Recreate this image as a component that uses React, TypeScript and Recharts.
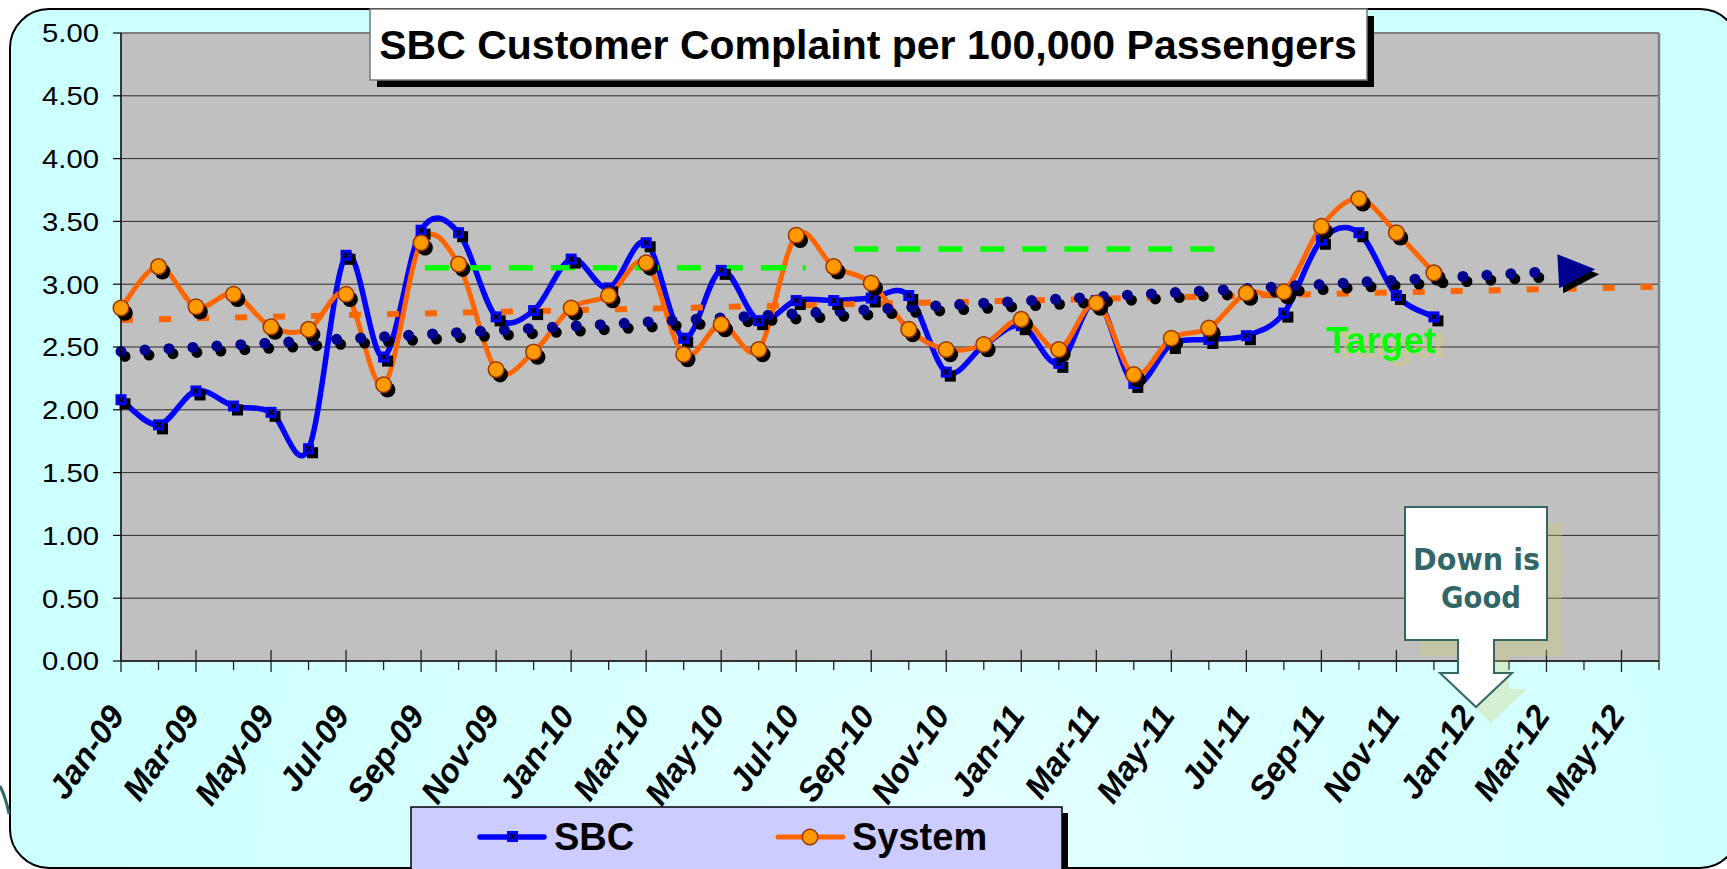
import React from 'react';
import { LineChart, Line, XAxis, YAxis, CartesianGrid, ReferenceLine } from 'recharts';

// month categories on the x axis (data runs Jan-09 .. Dec-11, axis runs to Jun-12)
const months = [
  'Jan-09', 'Feb-09', 'Mar-09', 'Apr-09', 'May-09', 'Jun-09', 'Jul-09', 'Aug-09', 'Sep-09', 'Oct-09', 'Nov-09', 'Dec-09',
  'Jan-10', 'Feb-10', 'Mar-10', 'Apr-10', 'May-10', 'Jun-10', 'Jul-10', 'Aug-10', 'Sep-10', 'Oct-10', 'Nov-10', 'Dec-10',
  'Jan-11', 'Feb-11', 'Mar-11', 'Apr-11', 'May-11', 'Jun-11', 'Jul-11', 'Aug-11', 'Sep-11', 'Oct-11', 'Nov-11', 'Dec-11',
  'Jan-12', 'Feb-12', 'Mar-12', 'Apr-12', 'May-12', 'Jun-12',
];

const seriesNames = ['SBC', 'System'];

const sbcValues = [
  2.08, 1.88, 2.15, 2.03, 1.98, 1.69, 3.23, 2.42, 3.43, 3.41, 2.74, 2.79,
  3.20, 2.97, 3.33, 2.57, 3.11, 2.71, 2.87, 2.87, 2.89, 2.91, 2.30, 2.51,
  2.67, 2.37, 2.87, 2.21, 2.52, 2.56, 2.59, 2.77, 3.35, 3.41, 2.91, 2.74,
];

const systemValues = [
  2.81, 3.14, 2.82, 2.92, 2.66, 2.64, 2.92, 2.20, 3.33, 3.16, 2.32, 2.46,
  2.81, 2.91, 3.17, 2.44, 2.68, 2.48, 3.39, 3.14, 3.01, 2.64, 2.48, 2.52,
  2.72, 2.48, 2.85, 2.28, 2.57, 2.65, 2.93, 2.94, 3.46, 3.68, 3.41, 3.09,
];

const yTicks = [0, 0.5, 1, 1.5, 2, 2.5, 3, 3.5, 4, 4.5, 5];

// trend lines (month index, value)
const sbcTrend = [{ idx: 0, value: 2.465 }, { idx: 39.3, value: 3.12 }];
const systemTrend = [{ idx: 0, value: 2.715 }, { idx: 41, value: 2.98 }];

// green target segments
const targets = [
  { from: 8.1, to: 18.25, value: 3.13 },
  { from: 19.55, to: 29.15, value: 3.28 },
];

const data = sbcValues.map((v, i) => ({ idx: i, month: months[i], sbc: v, system: systemValues[i] }));
const xTicks = months.map((_, i) => i);

const W = 1727;
const H = 869;
const AXIS_Y = 661;
const FONT = '"Liberation Sans", Arial, sans-serif';

// Excel style smoothing (bezier through points, control points at 1/6 of neighbour span)
const excelSmooth = (context: any) => {
  let pts: number[][] = [];
  return {
    areaStart() {},
    areaEnd() {},
    lineStart() {
      pts = [];
    },
    point(x: number, y: number) {
      pts.push([+x, +y]);
    },
    lineEnd() {
      const n = pts.length;
      if (!n) return;
      context.moveTo(pts[0][0], pts[0][1]);
      for (let i = 0; i < n - 1; i++) {
        const p0 = pts[Math.max(i - 1, 0)];
        const p1 = pts[i];
        const p2 = pts[i + 1];
        const p3 = pts[Math.min(i + 2, n - 1)];
        context.bezierCurveTo(
          p1[0] + (p2[0] - p0[0]) / 6, p1[1] + (p2[1] - p0[1]) / 6,
          p2[0] - (p3[0] - p1[0]) / 6, p2[1] - (p3[1] - p1[1]) / 6,
          p2[0], p2[1],
        );
      }
    },
  };
};

const sbcMarker = (cx: number, cy: number, key: string) => (
  <g key={key}>
    <rect x={cx - 5.5 + 4} y={cy - 5.5 + 4} width={11} height={11} fill="#000" />
    <rect x={cx - 5.5} y={cy - 5.5} width={11} height={11} fill="#0000ff" />
    <path
      d={`M${cx - 2.5},${cy - 2.5}L${cx + 2.5},${cy + 2.5}M${cx + 2.5},${cy - 2.5}L${cx - 2.5},${cy + 2.5}`}
      stroke="#000"
      strokeWidth={1.6}
    />
  </g>
);

const systemMarker = (cx: number, cy: number, key: string) => (
  <g key={key}>
    <circle cx={cx + 4} cy={cy + 5} r={7.8} fill="#000" />
    <circle cx={cx} cy={cy} r={7.8} fill="#ff9900" stroke="#993300" strokeWidth={1.5} />
  </g>
);

const SbcDot = (p: any) => {
  if (p.cx == null || p.cy == null) return <g key={`sbc-${p.index}`} />;
  return sbcMarker(p.cx, p.cy, `sbc-${p.index}`);
};

const SystemDot = (p: any) => {
  if (p.cx == null || p.cy == null) return <g key={`sys-${p.index}`} />;
  return systemMarker(p.cx, p.cy, `sys-${p.index}`);
};

// round-dot trend line with arrow head and black shadow
const DottedTrend = (p: any) => {
  const { x1, y1, x2, y2 } = p;
  const dx = x2 - x1;
  const dy = y2 - y1;
  const len = Math.hypot(dx, dy) || 1;
  const ux = dx / len;
  const uy = dy / len;
  const head = 37;
  const half = 17;
  const bx = x2 - ux * head;
  const by = y2 - uy * head;
  const tri = `M${x2},${y2}L${bx - uy * half},${by + ux * half}L${bx + uy * half},${by - ux * half}Z`;
  const body = (color: string, ox: number, oy: number) => (
    <g transform={`translate(${ox},${oy})`}>
      <line
        x1={x1}
        y1={y1}
        x2={bx - ux * 6}
        y2={by - uy * 6}
        stroke={color}
        strokeWidth={11}
        strokeLinecap="round"
        strokeDasharray="0 24"
      />
      <path d={tri} fill={color} />
    </g>
  );
  return (
    <g>
      {body('#000', 4, 5)}
      {body('#000090', 0, 0)}
    </g>
  );
};

const XTick = (p: any) => {
  const { x, payload } = p;
  const i = payload.value;
  const major = i % 2 === 0;
  return (
    <g>
      <line
        x1={x}
        x2={x}
        y1={major ? AXIS_Y - 11 : AXIS_Y}
        y2={AXIS_Y + (major ? 11 : 9)}
        stroke="#222"
        strokeWidth={1.3}
      />
      {major && (
        <text
          transform={`translate(${x - 5},${AXIS_Y + 48}) rotate(-55)`}
          textAnchor="end"
          dy="0.36em"
          fontFamily={FONT}
          fontWeight="bold"
          fontStyle="italic"
          fontSize={33}
          fill="#000"
        >
          {months[i]}
        </text>
      )}
    </g>
  );
};

const YTick = (p: any) => {
  const { y, payload } = p;
  return (
    <text
      x={99}
      y={y}
      dy="0.36em"
      textAnchor="end"
      fontFamily={FONT}
      fontSize={26}
      fill="#000"
      textLength={57}
      lengthAdjust="spacingAndGlyphs"
    >
      {Number(payload.value).toFixed(2)}
    </text>
  );
};

const calloutPath =
  'M1405,507 H1547 V640 H1494 V673 H1512 L1476,707 L1440,673 H1458 V640 H1405 Z';

export default function App() {
  return (
    <div style={{ position: 'absolute', left: 0, top: 0, width: W, height: H, overflow: 'hidden', background: '#fff' }}>
      <div
        style={{
          position: 'absolute',
          left: 9,
          top: 8,
          width: 1731,
          height: 861,
          boxSizing: 'border-box',
          border: '2.5px solid #000',
          borderRadius: 40,
          background: 'radial-gradient(ellipse at 55% 100%, #e6ffff 0%, #d6ffff 35%, #ccffff 70%)',
        }}
      />
      <div style={{ position: 'absolute', left: 0, top: 0 }}>
        <LineChart width={W} height={H} data={data} margin={{ top: 33, right: 68, bottom: 88, left: 0 }}>
          <CartesianGrid vertical={false} fill="#c0c0c0" fillOpacity={1} stroke="#2a2a2a" strokeWidth={1} />
          <XAxis
            dataKey="idx"
            type="number"
            domain={[0, 41]}
            ticks={xTicks}
            interval={0}
            height={120}
            axisLine={{ stroke: '#333', strokeWidth: 2 }}
            tickLine={false}
            tick={<XTick />}
          />
          <YAxis
            type="number"
            domain={[0, 5]}
            ticks={yTicks}
            width={121}
            axisLine={{ stroke: '#000', strokeWidth: 1.5 }}
            tickLine={{ stroke: '#000', strokeWidth: 1.2 }}
            tickSize={8}
            tick={<YTick />}
          />
          <ReferenceLine y={5} stroke="#808080" strokeWidth={2} />
          <ReferenceLine x={41} stroke="#808080" strokeWidth={2.5} />
          <Line
            dataKey="sbc"
            name={seriesNames[0]}
            type={excelSmooth as any}
            stroke="#0000ff"
            strokeWidth={5.5}
            dot={SbcDot}
            activeDot={false}
            isAnimationActive={false}
          />
          <Line
            dataKey="system"
            name={seriesNames[1]}
            type={excelSmooth as any}
            stroke="#ff6600"
            strokeWidth={5}
            dot={SystemDot}
            activeDot={false}
            isAnimationActive={false}
          />
          <ReferenceLine
            segment={[{ x: systemTrend[0].idx, y: systemTrend[0].value }, { x: systemTrend[1].idx, y: systemTrend[1].value }]}
            stroke="#ff6600"
            strokeWidth={6}
            strokeDasharray="12 26"
          />
          {targets.map((t, k) => (
            <ReferenceLine
              key={`target-${k}`}
              segment={[{ x: t.from, y: t.value }, { x: t.to, y: t.value }]}
              stroke="#00ff00"
              strokeWidth={5.5}
              strokeDasharray="24 18"
            />
          ))}
          <ReferenceLine
            segment={[{ x: sbcTrend[0].idx, y: sbcTrend[0].value }, { x: sbcTrend[1].idx, y: sbcTrend[1].value }]}
            shape={DottedTrend}
          />
        </LineChart>
      </div>
      <svg
        width={W}
        height={H}
        style={{ position: 'absolute', left: 0, top: 0, pointerEvents: 'none' }}
      >
        <defs>
          <filter id="softShadow" x="-10%" y="-10%" width="130%" height="140%">
            <feOffset in="SourceAlpha" dx={9} dy={5} result="off" />
            <feFlood floodColor="rgb(212,205,112)" floodOpacity={0.45} />
            <feComposite in2="off" operator="in" result="shadow" />
            <feMerge>
              <feMergeNode in="shadow" />
              <feMergeNode in="SourceGraphic" />
            </feMerge>
          </filter>
        </defs>

        {/* slide decoration at left edge */}
        <path d="M0,786 Q6,798 9,814" fill="none" stroke="#336666" strokeWidth={3} />

        {/* title */}
        <rect x={377} y={16} width={997} height={71} fill="#000" />
        <rect x={370} y={9} width={997} height={71} fill="#fff" stroke="#777" strokeWidth={1.5} />
        <text x={868} y={58.5} textAnchor="middle" fontFamily={FONT} fontWeight="bold" fontSize={41} fill="#000">
          SBC Customer Complaint per 100,000 Passengers
        </text>

        {/* Target label */}
        <text x={1326} y={353} fontFamily={FONT} fontWeight="bold" fontSize={37} fill="#00ff00" filter="url(#softShadow)">
          Target
        </text>

        {/* callout */}
        <path d={calloutPath} transform="translate(15,16)" fill="rgba(212,205,112,0.32)" />
        <path d={calloutPath} fill="#fff" stroke="#336666" strokeWidth={2} />
        <text
          x={1476.5}
          y={570}
          textAnchor="middle"
          fontFamily='"DejaVu Sans", Verdana, sans-serif'
          fontWeight="bold"
          fontSize={31}
          fill="#336666"
          textLength={127}
          lengthAdjust="spacingAndGlyphs"
        >
          Down is
        </text>
        <text
          x={1481}
          y={608}
          textAnchor="middle"
          fontFamily='"DejaVu Sans", Verdana, sans-serif'
          fontWeight="bold"
          fontSize={31}
          fill="#336666"
          textLength={80}
          lengthAdjust="spacingAndGlyphs"
        >
          Good
        </text>

        {/* legend */}
        <rect x={417} y={813} width={651} height={70} fill="#000" />
        <rect x={411} y={807} width={651} height={70} fill="#ccccff" stroke="#000" strokeWidth={1.5} />
        <line x1={480} y1={837} x2={544} y2={837} stroke="#0000ff" strokeWidth={5.5} strokeLinecap="round" />
        <rect x={507} y={831} width={11} height={11} fill="#0000ff" />
        <path d="M510,834L515,839M515,834L510,839" stroke="#000" strokeWidth={1.5} />
        <text x={554} y={850} fontFamily={FONT} fontWeight="bold" fontSize={38} fill="#000">
          {seriesNames[0]}
        </text>
        <line x1={778} y1={837} x2={843} y2={837} stroke="#ff6600" strokeWidth={5} strokeLinecap="round" />
        <circle cx={810} cy={837} r={7.8} fill="#ff9900" stroke="#993300" strokeWidth={1.5} />
        <text x={852} y={850} fontFamily={FONT} fontWeight="bold" fontSize={38} fill="#000">
          {seriesNames[1]}
        </text>
      </svg>
    </div>
  );
}
